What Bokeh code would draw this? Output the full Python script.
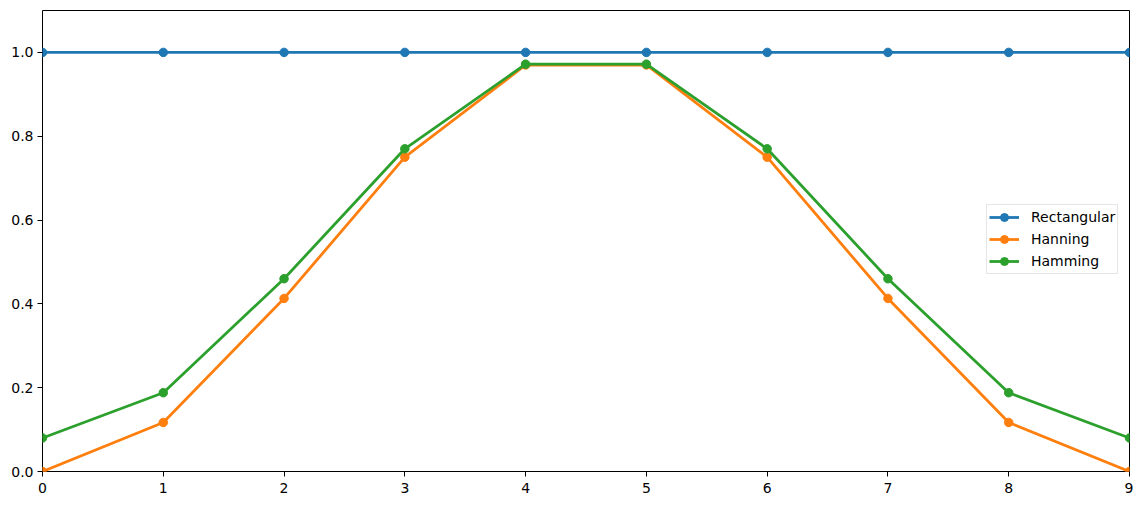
from bokeh.plotting import figure
from bokeh.models import Range1d, Legend, LegendItem, FixedTicker, PrintfTickFormatter
from bokeh.embed import file_html
from bokeh.resources import INLINE

n = [0, 1, 2, 3, 4, 5, 6, 7, 8, 9]
rectangular = [1.0, 1.0, 1.0, 1.0, 1.0, 1.0, 1.0, 1.0, 1.0, 1.0]
hanning = [0.0, 0.117, 0.413, 0.75, 0.970, 0.970, 0.75, 0.413, 0.117, 0.0]
hamming = [0.08, 0.188, 0.460, 0.77, 0.972, 0.972, 0.77, 0.460, 0.188, 0.08]
y_ticks = [0.0, 0.2, 0.4, 0.6, 0.8, 1.0]

series = [("Rectangular", rectangular, "#1f77b4"),
          ("Hanning", hanning, "#ff7f0e"),
          ("Hamming", hamming, "#2ca02c")]

p = figure(width=1133, height=497, output_backend="svg", toolbar_location=None,
           x_range=Range1d(0, 9), y_range=Range1d(0, 1.1),
           min_border_left=42, min_border_right=4, min_border_top=10, min_border_bottom=26)
p.xgrid.visible = False
p.ygrid.visible = False
p.outline_line_color = "black"
p.outline_line_width = 1
p.background_fill_color = "white"
p.border_fill_color = "white"

for ax in (p.xaxis[0], p.yaxis[0]):
    ax.axis_line_color = None
    ax.major_tick_in = 0
    ax.major_tick_out = 5
    ax.minor_tick_line_color = None
    ax.major_label_text_font = "DejaVu Sans"
    ax.major_label_text_font_size = "14px"
    ax.major_label_text_color = "black"
    ax.major_tick_line_color = "black"

p.xaxis.ticker = FixedTicker(ticks=n)
p.yaxis.ticker = FixedTicker(ticks=y_ticks)
p.yaxis.formatter = PrintfTickFormatter(format="%.1f")
p.xaxis.major_label_standoff = 6
p.yaxis.major_label_standoff = 4

items = []
for name, vals, col in series:
    l = p.line(n, vals, line_color=col, line_width=2.8)
    c = p.scatter(n, vals, size=8.5, fill_color=col, line_color=col)
    items.append(LegendItem(label=name, renderers=[l, c]))

legend = Legend(items=items, location=(944, 197),
                label_text_font="DejaVu Sans", label_text_font_size="14px",
                label_text_color="black",
                border_line_color="#cccccc", border_line_width=1,
                background_fill_alpha=0.8, glyph_width=30, glyph_height=20,
                spacing=2, padding=2, margin=0, label_standoff=12)
p.add_layout(legend, "center")

open("out.html", "w").write(file_html(p, INLINE))
